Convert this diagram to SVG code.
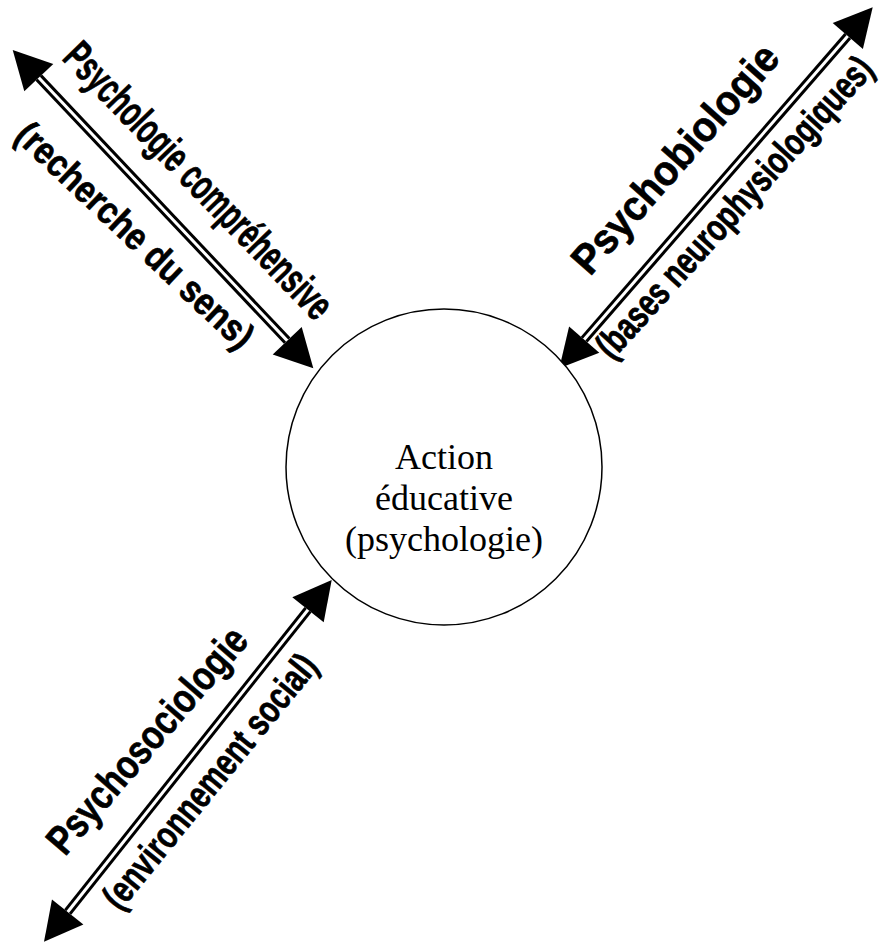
<svg xmlns="http://www.w3.org/2000/svg" width="891" height="944" viewBox="0 0 891 944">
<style>
.shaft-outer{stroke:#000;stroke-width:9;fill:none}
.shaft-inner{stroke:#fff;stroke-width:3;fill:none}
.head{fill:#000;stroke:none}
.lbl{font-family:"Liberation Sans",Arial,sans-serif;font-weight:bold;fill:#000;stroke:#000;stroke-width:0.7}
.main{font-size:43px}
.big{font-size:42px}
.soc{font-size:41px}
.sub{font-size:38px}
.subn{font-size:28.2px;stroke-width:0.6}
.ctr{font-family:"Liberation Serif","Times New Roman",serif;font-size:36px;fill:#000;text-anchor:middle}
</style>
<rect width="891" height="944" fill="#fff"/>
<g id="connectors">
  <g id="arrow-psychologie-comprehensive">
    <line class="shaft-outer" x1="38.8" y1="77.6" x2="287.2" y2="340.7"/>
    <line class="shaft-inner" x1="36" y1="74.7" x2="290" y2="343.6"/>
    <polygon class="head" points="12.7,50 53.3,63.9 24.3,91.3"/>
    <polygon class="head" points="313.3,368.3 301.7,327 272.7,354.4"/>
  </g>
  <g id="arrow-psychobiologie">
    <line class="shaft-outer" x1="847.8" y1="36" x2="584.2" y2="339.6"/>
    <line class="shaft-inner" x1="850" y1="33.5" x2="582" y2="342.1"/>
    <polygon class="head" points="872.7,7.3 862.9,49.1 832.7,22.9"/>
    <polygon class="head" points="559.3,368.3 599.3,352.7 569.1,326.5"/>
  </g>
  <g id="arrow-psychosociologie">
    <line class="shaft-outer" x1="308" y1="609.7" x2="67.7" y2="912"/>
    <line class="shaft-inner" x1="310" y1="607.2" x2="65.7" y2="914.5"/>
    <polygon class="head" points="331.7,580 323.7,622.2 292.3,597.2"/>
    <polygon class="head" points="44,941.7 83.4,924.5 52,899.5"/>
  </g>
</g>
<g id="node-action">
  <circle cx="444" cy="467" r="158" fill="#fff" stroke="#000" stroke-width="1.5"/>
  <text class="ctr" x="444" y="469">Action</text>
  <text class="ctr" x="444" y="510">éducative</text>
  <text class="ctr" x="444" y="551">(psychologie)</text>
</g>
<g id="label-psychologie-comprehensive">
  <text class="lbl main" transform="translate(61,59) rotate(46)" x="0" y="0" textLength="366" lengthAdjust="spacingAndGlyphs">Psychologie compréhensive</text>
  <text class="lbl sub" transform="translate(13,138) rotate(43.3)" x="0" y="0" textLength="311" lengthAdjust="spacingAndGlyphs">(recherche du sens)</text>
</g>
<g id="label-psychobiologie">
  <text class="lbl big" transform="translate(590,277) rotate(-48.6)" x="0" y="0" textLength="290" lengthAdjust="spacingAndGlyphs">Psychobiologie</text>
  <text class="lbl subn" transform="translate(612,361) rotate(-47.8) scale(1,1.347)" x="0" y="0" textLength="392" lengthAdjust="spacingAndGlyphs">(bases neurophysiologiques)</text>
</g>
<g id="label-psychosociologie">
  <text class="lbl soc" transform="translate(65,857) rotate(-49.3)" x="0" y="0" textLength="284" lengthAdjust="spacingAndGlyphs">Psychosociologie</text>
  <text class="lbl sub" transform="translate(120,912) rotate(-50.9)" x="0" y="0" textLength="316" lengthAdjust="spacingAndGlyphs">(environnement social)</text>
</g>
</svg>
